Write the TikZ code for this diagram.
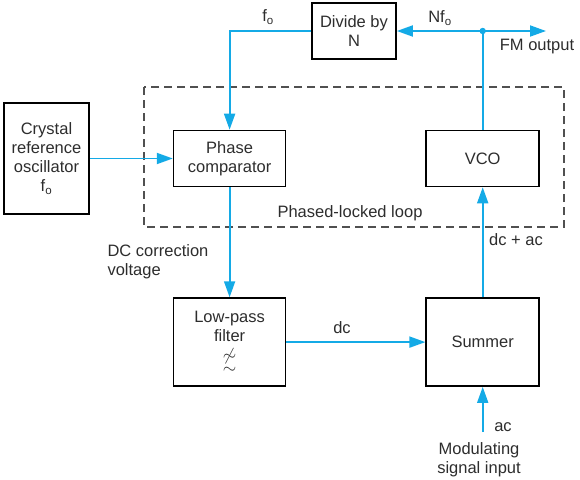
\documentclass[tikz,border=0pt]{standalone}
\usepackage{fontspec}
\setmainfont{Liberation Sans}
\usepackage{tikz}
\usetikzlibrary{positioning,arrows.meta}
\definecolor{signal}{RGB}{20,170,230}
\definecolor{ink}{RGB}{45,45,45}
\definecolor{loopgray}{RGB}{80,80,80}

\begin{document}
\begin{tikzpicture}[x=1pt, y=1pt, font=\fontsize{16.5}{19}\selectfont, text=ink,
    >={Triangle[length=16pt,width=11pt]},
    block/.style={draw=black, line width=1.6pt, inner sep=1pt, align=center, minimum width=112pt, minimum height=56pt},
    sig/.style={draw=signal, line width=1.8pt}]
          \useasboundingbox (0,0) rectangle (580,-479);

          % blocks
          \node[block, minimum width=85pt, minimum height=111pt] (crystal) at (46.5,-158.5) {Crystal\\reference\\oscillator\\f\textsubscript{o}};
          \node[block, right = 83pt of crystal] (phase) {Phase\\comparator};
          \node[block, right = 139pt of phase, minimum width=113pt] (vco) {VCO};
          \node[block, minimum width=84pt] (divide) at (354,-31) {Divide by\\N};
          \node[block, below = 110pt of phase, minimum height=88pt] (lowpass) {Low-pass\\filter\\$\not\sim$\\[-6pt]$\sim$};
          \node[block, below = 110pt of vco, minimum width=113pt, minimum height=88pt] (summer) {Summer};

          % phase-locked loop outline
          \draw[loopgray, line width=1.3pt, dash pattern=on 8pt off 5pt] (144,-87) rectangle (564,-227);

          % connection points
          \coordinate (tap) at (vco.north |- divide.west);
          \coordinate (fmend) at (546,0 |- tap);
          \coordinate (modin) at (summer.south |- 0,-432);

          % signals
          \draw [sig, ->] (crystal.east) -- (phase.west);
          \draw [sig, ->] (divide.west) -| (phase.north);
          \draw [sig] (vco.north) -- (tap);
          \draw [sig, ->] (tap) -- (divide.east);
          \draw [sig, ->] (tap) -- (fmend);
          \fill[signal] (tap) circle (3.2pt);
          \draw [sig, ->] (phase.south) -- (lowpass.north);
          \draw [sig, ->] (lowpass.east) -- (summer.west);
          \draw [sig, ->] (summer.north) -- (vco.south);
          \draw [sig, ->] (modin) -- (summer.south);

          % labels
          \node (fo) at (268,-17) {f\textsubscript{o}};
          \node (nfo) at (440,-18) {Nf\textsubscript{o}};
          \node (fmout) at (537,-47) {FM output};
          \node (pll) at (350,-213) {Phased-locked loop};
          \node[anchor=west, align=left] (dccorr) at (104,-262) {DC correction\\voltage};
          \node (dc) at (342,-328) {dc};
          \node (dcac) at (516,-240) {dc + ac};
          \node (ac) at (503,-427) {ac};
          \node[align=center] (modsig) at (479,-460) {Modulating\\signal input};
        \end{tikzpicture}
\end{document}
